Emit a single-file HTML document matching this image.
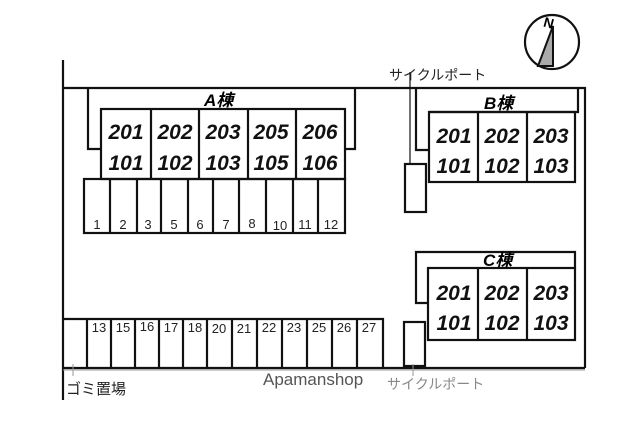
<!DOCTYPE html>
<html><head><meta charset="utf-8"><style>
html,body{margin:0;padding:0;background:#fff;}
svg{display:block;}
.u{font-family:"Liberation Sans","Noto Sans CJK JP",sans-serif;font-weight:bold;font-style:italic;font-size:21px;fill:#111;}
.n{font-family:"Liberation Sans",sans-serif;font-size:13px;fill:#222;}
.j{font-family:"Liberation Sans","Noto Sans CJK JP",sans-serif;}
</style></head><body>
<svg width="640" height="428" viewBox="0 0 640 428" xmlns="http://www.w3.org/2000/svg">
<g fill="none" stroke="#111" stroke-width="2.2">
<line x1="63" y1="60" x2="63" y2="400"/>
<polyline points="63,88 585,88 585,368"/>
<polyline points="101,149 88,149 88,88"/>
<polyline points="345,149 355,149 355,88"/>
<rect x="101" y="109" width="244" height="70"/>
<line x1="151" y1="109" x2="151" y2="179"/><line x1="199" y1="109" x2="199" y2="179"/>
<line x1="248" y1="109" x2="248" y2="179"/><line x1="296" y1="109" x2="296" y2="179"/>
<rect x="84" y="179" width="261" height="54"/>
<line x1="110" y1="179" x2="110" y2="233"/><line x1="137" y1="179" x2="137" y2="233"/>
<line x1="161" y1="179" x2="161" y2="233"/><line x1="188" y1="179" x2="188" y2="233"/>
<line x1="213" y1="179" x2="213" y2="233"/><line x1="239" y1="179" x2="239" y2="233"/>
<line x1="266" y1="179" x2="266" y2="233"/><line x1="293" y1="179" x2="293" y2="233"/>
<line x1="318" y1="179" x2="318" y2="233"/>
<polyline points="429,150 416,150 416,88"/>
<polyline points="575,112 578,112 578,88"/>
<line x1="429" y1="112" x2="575" y2="112"/>
<rect x="429" y="112" width="146" height="70"/>
<line x1="478" y1="112" x2="478" y2="182"/><line x1="527" y1="112" x2="527" y2="182"/>
<rect x="405" y="164" width="21" height="48"/>
<line x1="410" y1="72" x2="410" y2="164" stroke-width="1.2"/>
<polyline points="428,303 416,303 416,252 575,252 575,268"/>
<rect x="428" y="268" width="147" height="72"/>
<line x1="478" y1="268" x2="478" y2="340"/><line x1="527" y1="268" x2="527" y2="340"/>
<rect x="404" y="322" width="21" height="44"/>
<polyline points="63,319 383,319 383,368"/>
<line x1="87" y1="319" x2="87" y2="368"/><line x1="111" y1="319" x2="111" y2="368"/>
<line x1="135" y1="319" x2="135" y2="368"/><line x1="159" y1="319" x2="159" y2="368"/>
<line x1="183" y1="319" x2="183" y2="368"/><line x1="207" y1="319" x2="207" y2="368"/>
<line x1="232" y1="319" x2="232" y2="368"/><line x1="257" y1="319" x2="257" y2="368"/>
<line x1="282" y1="319" x2="282" y2="368"/><line x1="307" y1="319" x2="307" y2="368"/>
<line x1="332" y1="319" x2="332" y2="368"/><line x1="357" y1="319" x2="357" y2="368"/>
<line x1="63" y1="368" x2="585" y2="368"/>
<circle cx="552" cy="42" r="27"/>
</g>
<line x1="63" y1="370" x2="585" y2="370" stroke="#999" stroke-width="1"/>
<line x1="73" y1="364" x2="73" y2="376" stroke="#999" stroke-width="1"/>
<line x1="413" y1="364" x2="413" y2="376" stroke="#999" stroke-width="1"/>
<polygon points="553,26 538,66 553,66" fill="#aaa" stroke="#111" stroke-width="2"/>
<text x="544" y="28" font-family="Liberation Sans" font-weight="bold" font-size="14" transform="rotate(15 550 22)">N</text>
<text class="j" x="204" y="106" font-size="17" font-weight="bold" font-style="italic">A棟</text>
<text class="j" x="484" y="109" font-size="17" font-weight="bold" font-style="italic">B棟</text>
<text class="j" x="483" y="266" font-size="17" font-weight="bold" font-style="italic">C棟</text>
<g class="u" text-anchor="middle">
<text x="126" y="139">201</text><text x="126" y="170">101</text>
<text x="175" y="139">202</text><text x="175" y="170">102</text>
<text x="223" y="139">203</text><text x="223" y="170">103</text>
<text x="271" y="139">205</text><text x="271" y="170">105</text>
<text x="320" y="139">206</text><text x="320" y="170">106</text>
<text x="454" y="143">201</text><text x="454" y="173">101</text>
<text x="502" y="143">202</text><text x="502" y="173">102</text>
<text x="551" y="143">203</text><text x="551" y="173">103</text>
<text x="454" y="300">201</text><text x="454" y="330">101</text>
<text x="502" y="300">202</text><text x="502" y="330">102</text>
<text x="551" y="300">203</text><text x="551" y="330">103</text>
</g>
<g class="n" text-anchor="middle">
<text x="97" y="229">1</text><text x="123" y="229">2</text><text x="148" y="229">3</text>
<text x="174" y="229">5</text><text x="200" y="229">6</text><text x="226" y="229">7</text>
<text x="252" y="228">8</text><text x="280" y="230">10</text><text x="305" y="229">11</text>
<text x="331" y="229">12</text>
<text x="99" y="332">13</text><text x="123" y="332">15</text><text x="147" y="331">16</text>
<text x="171" y="332">17</text><text x="195" y="332">18</text><text x="219" y="333">20</text>
<text x="244" y="333">21</text><text x="269" y="332">22</text><text x="294" y="332">23</text>
<text x="319" y="332">25</text><text x="344" y="332">26</text><text x="369" y="332">27</text>
</g>
<text class="j" x="389" y="80" font-size="14" fill="#222">サイクルポート</text>
<text class="j" x="387" y="389" font-size="14" fill="#888">サイクルポート</text>
<text class="j" x="66" y="394" font-size="15" fill="#222">ゴミ置場</text>
<text x="263" y="385" font-family="Liberation Sans" font-size="17" fill="#555">Apamanshop</text>
</svg>
</body></html>
